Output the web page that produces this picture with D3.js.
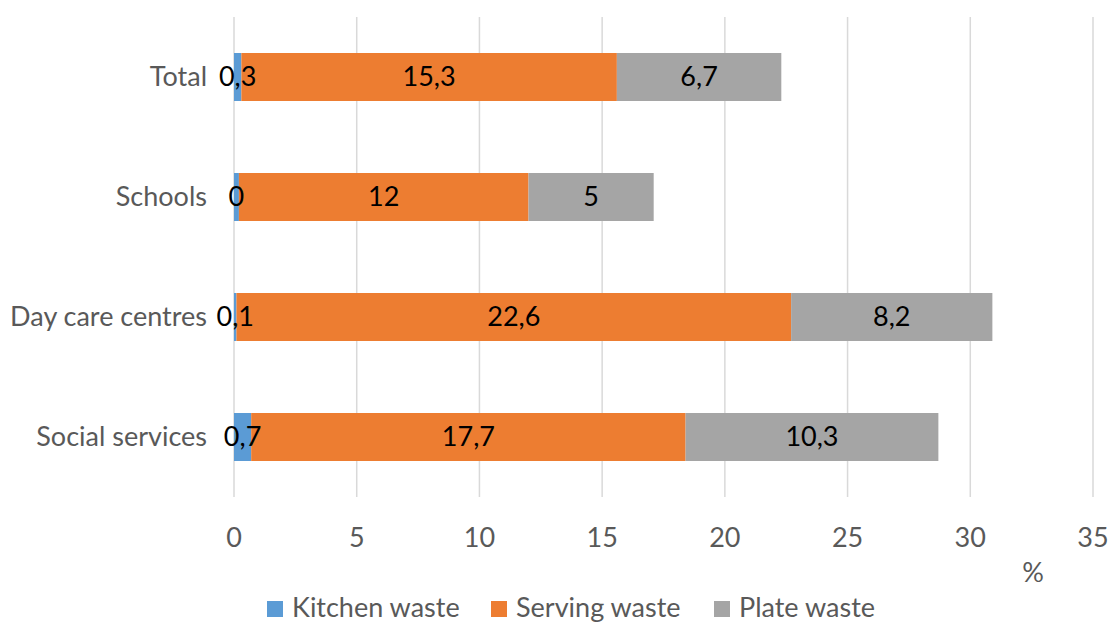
<!DOCTYPE html>
<html><head><meta charset="utf-8">
<script src="https://cdn.jsdelivr.net/npm/d3@7"></script>
<style>body{margin:0;background:#fff}svg{display:block}text{font-family:Lato,"Open Sans",sans-serif}</style>
</head><body>
<svg id="c" width="1110" height="623"></svg>
<script>
const categories = ["Total", "Schools", "Day care centres", "Social services"];
const seriesNames = ["Kitchen waste", "Serving waste", "Plate waste"];
const kitchenWaste = [0.3, 0.2, 0.1, 0.7];
const servingWaste = [15.3, 11.8, 22.6, 17.7];
const plateWaste = [6.7, 5.1, 8.2, 10.3];
const kitchenLabels = ["0,3", "0", "0,1", "0,7"];
const servingLabels = ["15,3", "12", "22,6", "17,7"];
const plateLabels = ["6,7", "5", "8,2", "10,3"];
const xTicks = [0, 5, 10, 15, 20, 25, 30, 35];
const colors = ["#5b9bd5", "#ed7d31", "#a5a5a5"];

const svg = d3.select("#c");
const x = d3.scaleLinear().domain([0, 35]).range([234, 1093]);
const y = d3.scaleBand().domain(categories).range([17, 497]).paddingInner(0.6).paddingOuter(0.3);

// gridlines
svg.append("g").selectAll("line").data(xTicks).join("line")
  .attr("x1", d => x(d)).attr("x2", d => x(d))
  .attr("y1", 17).attr("y2", 497)
  .attr("stroke", "#d9d9d9").attr("stroke-width", 1.5);

const vals = [kitchenWaste, servingWaste, plateWaste];
const labs = [kitchenLabels, servingLabels, plateLabels];
const rows = categories.map((c, i) => {
  const o = {cat: c};
  seriesNames.forEach((s, j) => o[s] = vals[j][i]);
  return o;
});
const stack = d3.stack().keys(seriesNames)(rows);

const g = svg.append("g");
stack.forEach((layer, j) => {
  g.selectAll(null).data(layer).join("rect")
    .attr("x", d => x(d[0]))
    .attr("width", d => x(d[1]) - x(d[0]))
    .attr("y", d => y(d.data.cat))
    .attr("height", y.bandwidth())
    .attr("fill", colors[j]);
});
stack.forEach((layer, j) => {
  g.selectAll(null).data(layer).join("text")
    .attr("x", d => (x(d[0]) + x(d[1])) / 2)
    .attr("y", d => y(d.data.cat) + y.bandwidth() / 2)
    .attr("dy", "0.35em")
    .attr("text-anchor", "middle")
    .attr("font-size", 27)
    .attr("fill", "#000")
    .text((d, i) => labs[j][i]);
});

// category labels
svg.append("g").selectAll("text").data(categories).join("text")
  .attr("x", 207).attr("y", d => y(d) + y.bandwidth() / 2)
  .attr("dy", "0.35em").attr("text-anchor", "end")
  .attr("font-size", 27).attr("fill", "#595959").text(d => d);

// x tick labels
svg.append("g").selectAll("text").data(xTicks).join("text")
  .attr("x", d => x(d)).attr("y", 547)
  .attr("text-anchor", "middle").attr("font-size", 27)
  .attr("fill", "#595959").text(d => d);

svg.append("text").attr("x", 1033).attr("y", 582).attr("text-anchor", "middle")
  .attr("font-size", 27).attr("fill", "#595959").text("%");

// legend
const legendX = [292, 516, 739];
const lg = svg.append("g");
seriesNames.forEach((s, j) => {
  lg.append("rect").attr("x", legendX[j] - 25).attr("y", 601).attr("width", 16).attr("height", 16).attr("fill", colors[j]);
  lg.append("text").attr("x", legendX[j]).attr("y", 617).attr("font-size", 27)
    .attr("fill", "#595959").text(s);
});
</script>
</body></html>
